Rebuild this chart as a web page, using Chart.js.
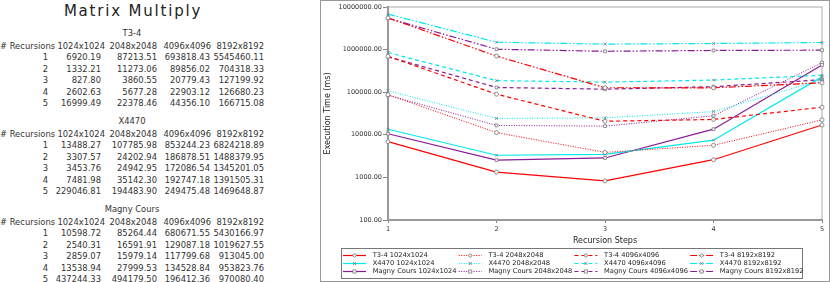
<!DOCTYPE html>
<html>
<head>
<meta charset="utf-8">
<script src="https://cdn.jsdelivr.net/npm/chart.js@4"></script>
<style>
  body { margin: 0; background: #fff; font-family: "DejaVu Sans", sans-serif; color: #333; }
  #page { position: relative; width: 830px; height: 282px; overflow: hidden; }
  #table { position: absolute; left: 0; top: 0; width: 320px; height: 282px; font-size: 8.4px; }
  #table span { position: absolute; white-space: nowrap; line-height: 10px; }
  #title { position: absolute; left: 0; width: 266px; top: 2px; text-align: center; font-size: 15px; letter-spacing: 1.8px; color: #222; }
  #box { position: absolute; left: 320px; top: 0; width: 510px; height: 282px; border: 1px solid #999; box-sizing: border-box; }
</style>
</head>
<body>
<div id="page">
  <div id="table"><div id="title">Matrix Multiply</div></div>
  <div id="box"><canvas id="myChart"></canvas></div>
</div>
<script>
const passos = ['1', '2', '3', '4', '5'];
const tamanhos = ['1024x1024', '2048x2048', '4096x4096', '8192x8192'];
const maquinas = ['T3-4', 'X4470', 'Magny Cours'];

const t34_1024 = [6920.19, 1332.21, 827.80, 2602.63, 16999.49];
const t34_2048 = [87213.51, 11273.06, 3860.55, 5677.28, 22378.46];
const t34_4096 = [693818.43, 89856.02, 20779.43, 22903.12, 44356.10];
const t34_8192 = [5545460.11, 704318.33, 127199.92, 126680.23, 166715.08];

const x4470_1024 = [13488.27, 3307.57, 3453.76, 7481.98, 229046.81];
const x4470_2048 = [107785.98, 24202.94, 24942.95, 35142.30, 194483.90];
const x4470_4096 = [853244.23, 186878.51, 172086.54, 192747.18, 249475.48];
const x4470_8192 = [6824218.89, 1488379.95, 1345201.05, 1391505.31, 1469648.87];

const magny_1024 = [10598.72, 2540.31, 2859.07, 13538.94, 437244.33];
const magny_2048 = [85264.44, 16591.91, 15979.14, 27999.53, 494179.50];
const magny_4096 = [680671.55, 129087.18, 117799.68, 134528.84, 196412.36];
const magny_8192 = [5430166.97, 1019627.55, 913045.00, 953823.76, 970080.40];

const yTicks = [100, 1000, 10000, 100000, 1000000, 10000000];

const valores = [
    [t34_1024, t34_2048, t34_4096, t34_8192],
    [x4470_1024, x4470_2048, x4470_4096, x4470_8192],
    [magny_1024, magny_2048, magny_4096, magny_8192]
];

const cores = ['#ff0000', '#00e8f0', '#8a1a96'];
const marcadores = ['circle', 'crossRot', 'rect'];
const tracos = [[], [1, 1.5], [4, 3], [7, 2, 1.5, 2, 1.5, 2]];

// tabela de texto à esquerda
const tabela = document.getElementById('table');
function texto(str, x, y, align) {
    const s = document.createElement('span');
    s.textContent = str;
    s.style.top = (y - 5) + 'px';
    if (align === 'right') s.style.right = (320 - x) + 'px';
    else if (align === 'center') { s.style.left = (x - 60) + 'px'; s.style.width = '120px'; s.style.textAlign = 'center'; }
    else s.style.left = x + 'px';
    tabela.appendChild(s);
}
const colHead = [105, 157, 211, 264];
const colNum = [101, 157, 210, 264];
maquinas.forEach((m, mi) => {
    const y0 = 33 + mi * 88;
    texto(m, 132, y0, 'center');
    texto('# Recursions', 0, y0 + 12.5);
    tamanhos.forEach((t, ti) => texto(t, colHead[ti], y0 + 12.5, 'right'));
    passos.forEach((p, pi) => {
        const y = y0 + 24 + pi * 11.6;
        texto(p, 48, y, 'right');
        tamanhos.forEach((t, ti) => texto(valores[mi][ti][pi].toFixed(2), colNum[ti], y, 'right'));
    });
});

// datasets
const datasets = [];
maquinas.forEach((m, mi) => {
    tamanhos.forEach((t, ti) => {
        datasets.push({
            label: m + ' ' + t,
            data: valores[mi][ti],
            borderColor: cores[mi],
            borderWidth: ti === 1 ? 1 : 1.2,
            borderDash: tracos[ti],
            pointStyle: marcadores[mi],
            pointRadius: 2,
            pointBorderColor: '#777',
            pointBackgroundColor: '#fff',
            pointBorderWidth: 0.8,
            fill: false,
            tension: 0,
            clip: false
        });
    });
});

// moldura da área do gráfico
const moldura = {
    id: 'moldura',
    beforeDatasetsDraw(chart) {
        const a = chart.chartArea, ctx = chart.ctx;
        ctx.save();
        ctx.strokeStyle = '#aaa';
        ctx.lineWidth = 1;
        ctx.strokeRect(a.left, a.top, a.right - a.left, a.bottom - a.top);
        ctx.restore();
    }
};

function marcador(ctx, estilo, x, y) {
    ctx.save();
    ctx.setLineDash([]);
    ctx.strokeStyle = '#777';
    ctx.fillStyle = '#fff';
    ctx.lineWidth = 0.8;
    ctx.beginPath();
    if (estilo === 'circle') {
        ctx.arc(x, y, 1.6, 0, Math.PI * 2);
        ctx.fill(); ctx.stroke();
    } else if (estilo === 'rect') {
        ctx.rect(x - 1.6, y - 1.6, 3.2, 3.2);
        ctx.fill(); ctx.stroke();
    } else {
        ctx.moveTo(x - 1.6, y - 1.6); ctx.lineTo(x + 1.6, y + 1.6);
        ctx.moveTo(x + 1.6, y - 1.6); ctx.lineTo(x - 1.6, y + 1.6);
        ctx.stroke();
    }
    ctx.restore();
}

// legenda desenhada à mão
const legenda = {
    id: 'legenda',
    afterDraw(chart) {
        const ctx = chart.ctx;
        ctx.save();
        ctx.strokeStyle = '#777';
        ctx.lineWidth = 1;
        ctx.strokeRect(20.5, 247.5, 461, 30);
        ctx.font = '6.7px DejaVu Sans';
        ctx.textBaseline = 'middle';
        chart.data.datasets.forEach((ds, i) => {
            const linha = Math.floor(i / 4), col = i % 4;
            const x0 = 22 + col * 115.7;
            const y = 254.5 + linha * 8;
            ctx.save();
            ctx.strokeStyle = ds.borderColor;
            ctx.lineWidth = 1.2;
            ctx.setLineDash(ds.borderDash);
            ctx.beginPath();
            ctx.moveTo(x0, y);
            ctx.lineTo(x0 + 23, y);
            ctx.stroke();
            ctx.restore();
            marcador(ctx, ds.pointStyle, x0 + 11.5, y);
            ctx.fillStyle = '#222';
            ctx.fillText(ds.label, x0 + 29.7, y);
        });
        ctx.restore();
    }
};

new Chart(document.getElementById('myChart'), {
    type: 'line',
    data: { labels: passos, datasets: datasets },
    options: {
        responsive: true,
        maintainAspectRatio: false,
        animation: false,
        layout: { padding: { left: 2, right: 7, top: 6, bottom: 33 } },
        plugins: { legend: { display: false }, tooltip: { enabled: false } },
        scales: {
            x: {
                offset: false,
                afterFit: s => { s.height = 28; },
                grid: { drawOnChartArea: false, tickLength: 3, color: '#888' },
                border: { color: '#888', width: 2 },
                ticks: { font: { family: 'DejaVu Sans', size: 6.5 }, color: '#333', padding: 2, maxRotation: 0 },
                title: { display: true, text: 'Recursion Steps', font: { family: 'DejaVu Sans', size: 8 }, color: '#222', padding: { top: 0, bottom: 2 } }
            },
            y: {
                type: 'logarithmic',
                min: 100,
                max: 10000000,
                afterFit: s => { s.width = 65; },
                afterBuildTicks: s => { s.ticks = yTicks.map(v => ({ value: v })); },
                grid: { drawOnChartArea: false, tickLength: 5, color: '#888' },
                border: { color: '#888', width: 2 },
                ticks: {
                    font: { family: 'DejaVu Sans', size: 6.5 }, color: '#333', padding: 1,
                    callback: v => Number(v).toFixed(2)
                },
                title: { display: true, text: 'Execution Time (ms)', font: { family: 'DejaVu Sans', size: 8 }, color: '#222', padding: 0 }
            }
        }
    },
    plugins: [moldura, legenda]
});
</script>
</body>
</html>
